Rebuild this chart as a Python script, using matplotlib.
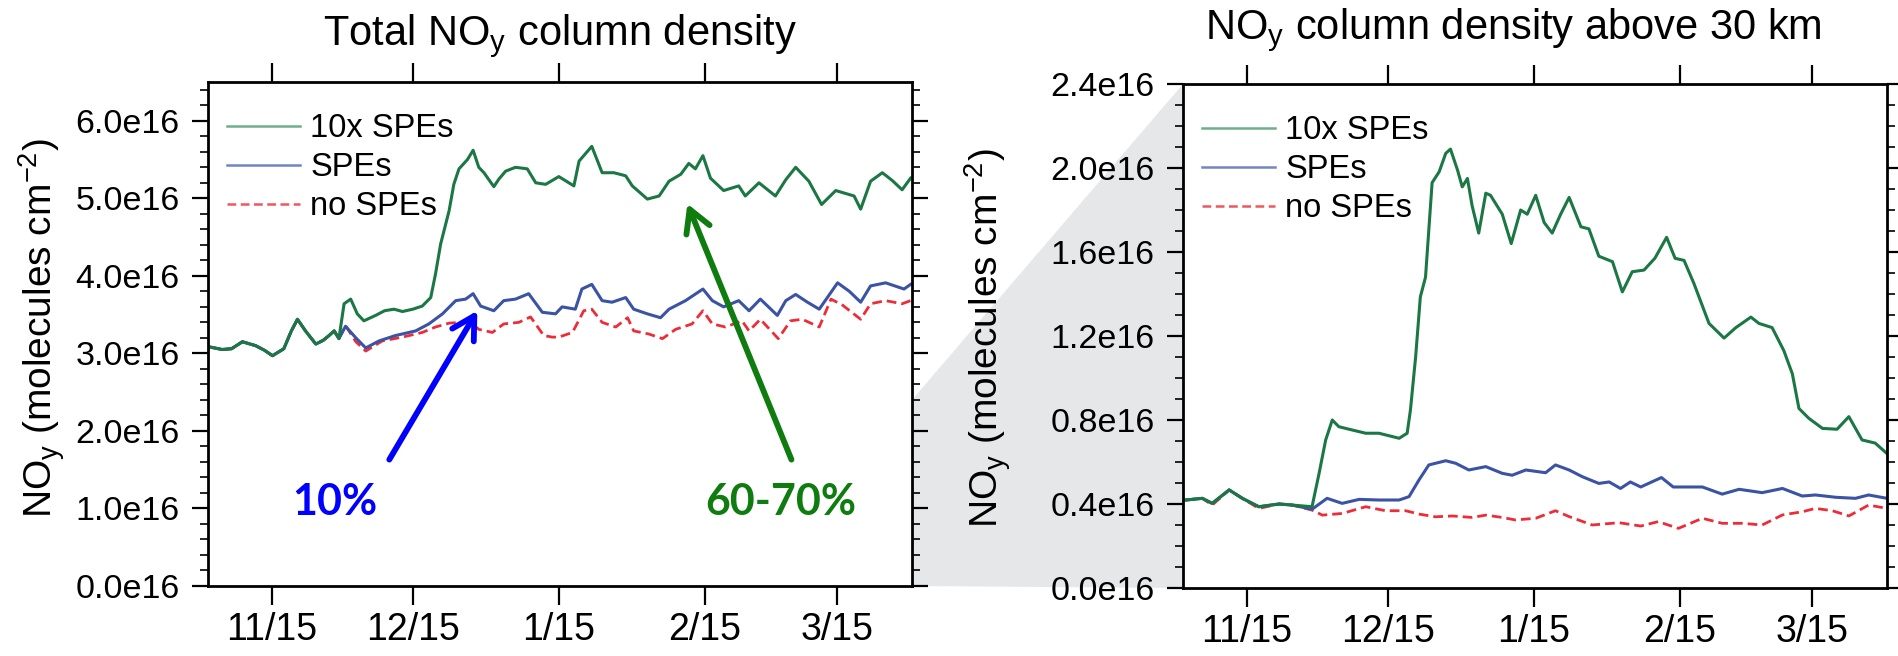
import numpy as np
import matplotlib
matplotlib.use('Agg')
from matplotlib import pyplot as plt
from matplotlib.lines import Line2D
from matplotlib.patches import Polygon
from matplotlib.ticker import MultipleLocator, NullLocator, FuncFormatter

plt.rcParams['font.family'] = ['Liberation Sans', 'DejaVu Sans']
plt.rcParams['mathtext.default'] = 'regular'

# day of season: Nov 1 = 1
tick_days = [15, 45, 76, 107, 135]
tick_labels = ['11/15', '12/15', '1/15', '2/15', '3/15']

# ---- total column (units of 1e16 molecules cm-2) ----
early_days = [2.1, 4.5, 6.5, 8.8, 11.6, 13.5, 15.2, 17.6, 19.2, 20.5, 22.2, 24.4, 26.0, 27.2, 28.3, 29.3]
early_tot = [3.08, 3.05, 3.06, 3.15, 3.10, 3.04, 2.97, 3.06, 3.29, 3.44, 3.29, 3.12, 3.17, 3.23, 3.29, 3.19]

tot_10x_days = early_days + [30.4, 31.8, 33.2, 34.6, 37.1, 39.0, 41.0, 42.8, 45.0, 47.0, 48.8, 49.8,
                             50.9, 52.7, 53.7, 54.8, 56.6, 57.8, 59.0, 60.1, 62.2, 63.3, 64.7, 66.8,
                             69.3, 71.1, 73.2, 76.0, 79.2, 80.3, 83.0, 85.2, 87.7, 90.2, 91.6, 94.8,
                             97.3, 99.4, 101.9, 103.6, 105.0, 106.6, 108.2, 111.0, 114.2, 115.6, 118.5,
                             122.0, 124.2, 126.3, 129.1, 131.8, 134.8, 138.7, 140.1, 142.2, 144.7,
                             146.8, 148.9, 150.7]
tot_10x = early_tot + [3.64, 3.70, 3.51, 3.42, 3.49, 3.55, 3.57, 3.54, 3.57, 3.61, 3.72, 4.02,
                       4.41, 4.84, 5.18, 5.38, 5.50, 5.62, 5.40, 5.33, 5.15, 5.25, 5.35, 5.40,
                       5.38, 5.20, 5.18, 5.28, 5.16, 5.48, 5.67, 5.33, 5.33, 5.29, 5.16, 4.99,
                       5.03, 5.22, 5.31, 5.45, 5.38, 5.55, 5.26, 5.10, 5.16, 5.03, 5.20,
                       5.03, 5.24, 5.40, 5.22, 4.92, 5.10, 5.03, 4.86, 5.22, 5.33,
                       5.23, 5.11, 5.26]

tot_spe_days = early_days + [30.7, 32.9, 35.0, 37.8, 41.3, 45.6, 48.4, 51.3, 54.1, 56.2, 57.8, 59.4,
                             62.2, 64.3, 66.8, 69.6, 72.5, 75.3, 76.7, 79.5, 80.9, 83.0, 85.2, 87.3,
                             90.2, 91.9, 94.8, 97.6, 99.4, 102.9, 106.6, 108.6, 111.0, 114.2, 116.4,
                             118.8, 122.4, 124.2, 126.3, 128.8, 131.3, 135.2, 137.7, 140.1, 142.2,
                             145.4, 149.3, 150.7]
tot_spe = early_tot + [3.35, 3.20, 3.07, 3.16, 3.23, 3.29, 3.38, 3.51, 3.68, 3.70, 3.77, 3.61,
                       3.55, 3.68, 3.70, 3.77, 3.53, 3.51, 3.60, 3.57, 3.83, 3.89, 3.68, 3.66,
                       3.72, 3.57, 3.51, 3.46, 3.57, 3.68, 3.83, 3.68, 3.60, 3.68, 3.55,
                       3.70, 3.49, 3.68, 3.76, 3.66, 3.57, 3.91, 3.80, 3.66, 3.87,
                       3.91, 3.83, 3.89]

tot_none_days = early_days + [30.7, 32.9, 35.0, 38.5, 42.8, 47.0, 49.8, 52.7, 55.5, 56.9, 59.0, 61.9,
                              64.3, 67.5, 70.0, 72.8, 74.6, 76.0, 78.9, 81.3, 83.0, 85.2, 88.1, 90.6,
                              91.9, 95.1, 98.0, 100.8, 104.3, 106.6, 108.6, 111.4, 114.9, 116.4,
                              118.8, 122.6, 125.2, 127.7, 131.3, 133.8, 136.3, 140.1, 142.2, 145.4,
                              148.9, 150.7]
tot_none = early_tot + [3.36, 3.15, 3.03, 3.16, 3.21, 3.27, 3.34, 3.39, 3.40, 3.42, 3.31, 3.27,
                        3.38, 3.40, 3.47, 3.23, 3.21, 3.21, 3.27, 3.55, 3.57, 3.40, 3.34, 3.46,
                        3.29, 3.25, 3.19, 3.31, 3.38, 3.55, 3.38, 3.34, 3.42, 3.29,
                        3.44, 3.19, 3.42, 3.44, 3.34, 3.70, 3.62, 3.44, 3.64, 3.68,
                        3.64, 3.68]

# ---- column above 30 km (units of 1e16 molecules cm-2) ----
up_early_days = [2.1, 5.6, 7.7, 11.3, 14.1, 17.6, 21.9, 24.7, 28.9]
up_early = [0.419, 0.427, 0.403, 0.467, 0.427, 0.387, 0.400, 0.395, 0.387]

up_10x_days = up_early_days + [30.4, 31.8, 33.2, 34.6, 37.5, 40.3, 43.1, 47.4, 49.1, 49.8, 50.9, 51.9,
                               53.0, 54.4, 55.9, 57.3, 58.3, 59.8, 60.8, 61.9, 62.9, 64.3, 65.8, 66.8,
                               69.3, 71.2, 73.2, 74.6, 76.4, 78.2, 79.9, 81.7, 83.5, 86.0, 87.7, 89.8,
                               92.7, 94.8, 96.9, 99.4, 101.7, 104.2, 106.0, 107.9, 110.0, 113.2, 116.4,
                               118.9, 122.1, 123.8, 126.6, 129.1, 130.9, 132.3, 134.4, 137.3, 140.4,
                               142.9, 145.7, 148.5, 151.0]
up_10x = up_early + [0.546, 0.705, 0.800, 0.768, 0.752, 0.737, 0.737, 0.713, 0.737, 0.848, 1.10, 1.386,
                     1.48, 1.93, 1.982, 2.07, 2.09, 1.99, 1.91, 1.95, 1.82, 1.69, 1.88, 1.87,
                     1.78, 1.64, 1.80, 1.78, 1.87, 1.74, 1.69, 1.78, 1.86, 1.72, 1.71, 1.58,
                     1.554, 1.41, 1.506, 1.514, 1.57, 1.67, 1.57, 1.56, 1.45, 1.26, 1.19,
                     1.24, 1.29, 1.26, 1.24, 1.13, 1.02, 0.855, 0.808, 0.760, 0.756,
                     0.816, 0.705, 0.690, 0.640]

up_spe_days = up_early_days[:-1] + [28.9, 32.1, 35.3, 38.9, 43.1, 47.4, 49.5, 51.6, 53.7, 57.3, 59.4,
                                    62.2, 65.8, 69.3, 71.4, 74.3, 78.5, 80.6, 83.5, 86.3, 89.8, 92.0,
                                    94.4, 96.5, 98.7, 103.1, 105.6, 108.2, 111.8, 116.0, 119.6, 124.5,
                                    128.8, 133.0, 135.8, 140.1, 144.3, 147.1, 151.0]
up_spe = up_early[:-1] + [0.375, 0.427, 0.403, 0.422, 0.419, 0.419, 0.435, 0.514, 0.586, 0.606, 0.594,
                          0.562, 0.578, 0.546, 0.537, 0.562, 0.549, 0.586, 0.562, 0.530, 0.498, 0.505,
                          0.474, 0.505, 0.481, 0.526, 0.481, 0.481, 0.481, 0.447, 0.470, 0.454,
                          0.474, 0.438, 0.443, 0.432, 0.427, 0.443, 0.427]

up_none_days = [2.1, 5.6, 7.7, 11.3, 14.1, 17.6, 21.9, 24.7, 28.9, 31.1, 35.3, 40.3, 44.5, 48.8,
                51.6, 55.1, 58.7, 62.9, 65.8, 69.3, 72.1, 76.4, 80.6, 83.5, 88.4, 94.1, 98.7,
                102.4, 106.7, 111.8, 116.0, 120.3, 124.5, 128.8, 133.0, 135.8, 139.4, 142.9,
                147.1, 151.0]
up_none = [0.419, 0.427, 0.395, 0.467, 0.427, 0.379, 0.400, 0.395, 0.371, 0.347, 0.355, 0.387, 0.368,
           0.368, 0.352, 0.339, 0.343, 0.336, 0.347, 0.336, 0.324, 0.332, 0.368, 0.340, 0.300, 0.311,
           0.295, 0.316, 0.284, 0.332, 0.308, 0.308, 0.300, 0.348, 0.363, 0.379, 0.368, 0.343,
           0.395, 0.379]

green, blue, red = '#1b7743', '#3a53a4', '#ec2d38'
leg_green, leg_blue, leg_red = '#6fae8a', '#7085c4', '#f05560'

W, H = 1899, 656
fig = plt.figure(figsize=(W / 100, H / 100), dpi=100)
ax1 = fig.add_axes([208 / W, 70 / H, 704 / W, 504 / H])
ax2 = fig.add_axes([1183 / W, 68 / H, 704 / W, 504 / H])


def style_axes(ax, ymax, major, minor):
    ax.set_xlim(1.5, 151.0)
    ax.set_ylim(0, ymax)
    ax.set_xticks(tick_days)
    ax.set_xticklabels(tick_labels)
    ax.xaxis.set_minor_locator(NullLocator())
    ax.yaxis.set_major_locator(MultipleLocator(major))
    ax.yaxis.set_minor_locator(MultipleLocator(minor))
    ax.yaxis.set_major_formatter(FuncFormatter(lambda v, p: f'{v:.1f}e16'))
    ax.tick_params(axis='x', which='major', direction='out', length=13.5, width=1.6,
                   top=True, bottom=True, labelsize=27, pad=5)
    ax.tick_params(axis='y', which='major', direction='out', length=11.5, width=1.6,
                   left=True, right=True, labelsize=24.5, pad=9)
    ax.tick_params(axis='y', which='minor', direction='out', length=5.8, width=1.2,
                   left=True, right=True)
    for s in ax.spines.values():
        s.set_linewidth(2.0)


def draw_series(ax, d10, v10, ds, vs, dn, vn):
    ax.plot(dn, vn, color=red, lw=2.0, dashes=(3.5, 1.8))
    ax.plot(ds, vs, color=blue, lw=2.2)
    ax.plot(d10, v10, color=green, lw=2.2)
    handles = [Line2D([], [], color=leg_green, lw=1.8),
               Line2D([], [], color=leg_blue, lw=1.8),
               Line2D([], [], color=leg_red, lw=1.8, dashes=(3.5, 1.8))]
    ax.legend(handles, ['10x SPEs', 'SPEs', 'no SPEs'], loc='upper left',
              bbox_to_anchor=(19 / 704, 1 - 31 / 504), frameon=False, fontsize=23.5,
              handlelength=2.25, handletextpad=0.3, labelspacing=0.25,
              borderaxespad=0, borderpad=0)


draw_series(ax1, tot_10x_days, tot_10x, tot_spe_days, tot_spe, tot_none_days, tot_none)
style_axes(ax1, 6.5, 1.0, 0.2)
draw_series(ax2, up_10x_days, up_10x, up_spe_days, up_spe, up_none_days, up_none)
style_axes(ax2, 2.4, 0.4, 0.1)

# gray wedge linking 0-2.4e16 of the total column to the upper column panel
to_fig = fig.transFigure.inverted()
pts = [ax1.transData.transform((151.0, 0.0)), ax1.transData.transform((151.0, 2.4)),
       ax2.transData.transform((1.5, 2.4)), ax2.transData.transform((1.5, 0.0))]
pts = [to_fig.transform(p) for p in pts]
wedge = Polygon(pts, closed=True, facecolor='#e6e7e8', edgecolor='none',
                transform=fig.transFigure, zorder=-1)
fig.add_artist(wedge)

# arrows and percentages
ax1.annotate('', xy=(58.7, 3.55), xytext=(40.0, 1.63),
             arrowprops=dict(arrowstyle='->, head_length=0.8, head_width=0.45',
                             color='#0000ff', lw=4.2, mutation_scale=20,
                             shrinkA=0, shrinkB=0))
ax1.annotate('', xy=(103.3, 4.93), xytext=(125.4, 1.63),
             arrowprops=dict(arrowstyle='->, head_length=0.8, head_width=0.45',
                             color='#0e7c0e', lw=4.2, mutation_scale=20,
                             shrinkA=0, shrinkB=0))
ax1.text(28.5, 1.08, '10%', color='#0000ff', fontsize=31, fontweight='bold',
         family=['Lato', 'DejaVu Sans'], ha='center', va='center')
ax1.text(123.2, 1.08, '60-70%', color='#0e7c0e', fontsize=31, fontweight='bold',
         family=['Lato', 'DejaVu Sans'], ha='center', va='center')

fig.text(560 / W, 1 - 45 / H, 'Total NO$_y$ column density', ha='center', va='baseline', fontsize=30)
fig.text(1513 / W, 1 - 39 / H, 'NO$_y$ column density above 30 km', ha='center', va='baseline', fontsize=30)
fig.text(42 / W, 1 - 328 / H, 'NO$_y$ (molecules cm$^{-2}$)', rotation=90,
         ha='center', va='center', fontsize=28)
fig.text(988 / W, 1 - 338 / H, 'NO$_y$ (molecules cm$^{-2}$)', rotation=90,
         ha='center', va='center', fontsize=28)

fig.savefig('out.png', dpi=100)
